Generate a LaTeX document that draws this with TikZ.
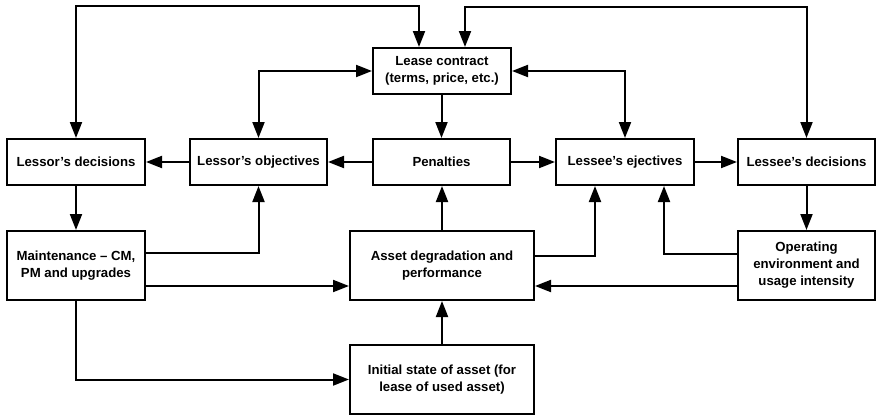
\documentclass[tikz,border=0pt]{standalone}
\usepackage{fontspec}
\setmainfont{Liberation Sans}
\usetikzlibrary{arrows.meta}
\begin{document}
\begin{tikzpicture}[x=1pt,y=-1pt,
  box/.style={draw, line width=2pt, align=center, inner sep=0pt,
    minimum height=46pt, font=\fontsize{13.2}{17}\selectfont\bfseries},
  tall/.style={minimum height=69pt},
  arr/.style={line width=2pt, -{Triangle[length=16pt,width=12pt]}},
  darr/.style={line width=2pt, {Triangle[length=16pt,width=12pt]}-{Triangle[length=16pt,width=12pt]}}
]
\useasboundingbox (0,0) rectangle (876,415);

% top row
\node[box, minimum width=138pt] (lease) at (442,71) {Lease contract\\(terms, price, etc.)};

% middle row
\node[box, minimum width=138pt] (lessorD) at (76,162) {Lessor’s decisions};
\node[box, minimum width=137pt] (lessorO) at (258.5,162) {Lessor’s objectives};
\node[box, minimum width=137pt] (pen) at (441.5,162) {Penalties};
\node[box, minimum width=138pt] (lesseeE) at (625,162) {Lessee’s ejectives};
\node[box, minimum width=137pt] (lesseeD) at (806.5,162) {Lessee’s decisions};

% lower rows
\node[box, tall, minimum width=138pt] (maint) at (76,265.5) {Maintenance – CM,\\PM and upgrades};
\node[box, tall, minimum width=184pt] (asset) at (442,265.5) {Asset degradation and\\performance};
\node[box, tall, minimum width=137pt] (oper) at (806.5,265.5) {Operating\\environment and\\usage intensity};
\node[box, tall, minimum width=184pt] (init) at (442,379.5) {Initial state of asset (for\\lease of used asset)};

% loops over the top
\coordinate (tl1) at (76,6);
\coordinate (tl2) at (419,6);
\draw[darr] (lessorD.north) -- (tl1) -- (tl2) -- (lease.north -| tl2);
\coordinate (tr1) at (465,7);
\coordinate (tr2) at (806.5,7);
\draw[darr] (lease.north -| tr1) -- (tr1) -- (tr2) -- (lesseeD.north);

% contract links
\draw[darr] (lessorO.north) |- (lease.west);
\draw[darr] (lease.east) -| (lesseeE.north);
\draw[arr] (lease.south -| pen.north) -- (pen.north);

% middle row links
\draw[arr] (pen.west) -- (lessorO.east);
\draw[arr] (lessorO.west) -- (lessorD.east);
\draw[arr] (pen.east) -- (lesseeE.west);
\draw[arr] (lesseeE.east) -- (lesseeD.west);

% decisions feeding the lower boxes
\draw[arr] (lessorD.south) -- (maint.north);
\draw[arr] (lesseeD.south) -- (oper.north);

% maintenance links
\draw[arr] ([yshift=12.5pt]maint.east) -| (lessorO.south);
\draw[arr] ([yshift=-20.5pt]maint.east) -- ([yshift=-20.5pt]asset.west);
\draw[arr] (maint.south) |- (init.west);

% asset links
\draw[arr] (init.north) -- (asset.south);
\draw[arr] (asset.north) -- (asset.north |- pen.south);
\draw[arr] ([yshift=9.5pt]asset.east) -| ([xshift=-30pt]lesseeE.south);

% operating environment links
\draw[arr] ([yshift=11.5pt]oper.west) -| ([xshift=39pt]lesseeE.south);
\draw[arr] ([yshift=-20.5pt]oper.west) -- ([yshift=-20.5pt]asset.east);
\end{tikzpicture}
\end{document}
